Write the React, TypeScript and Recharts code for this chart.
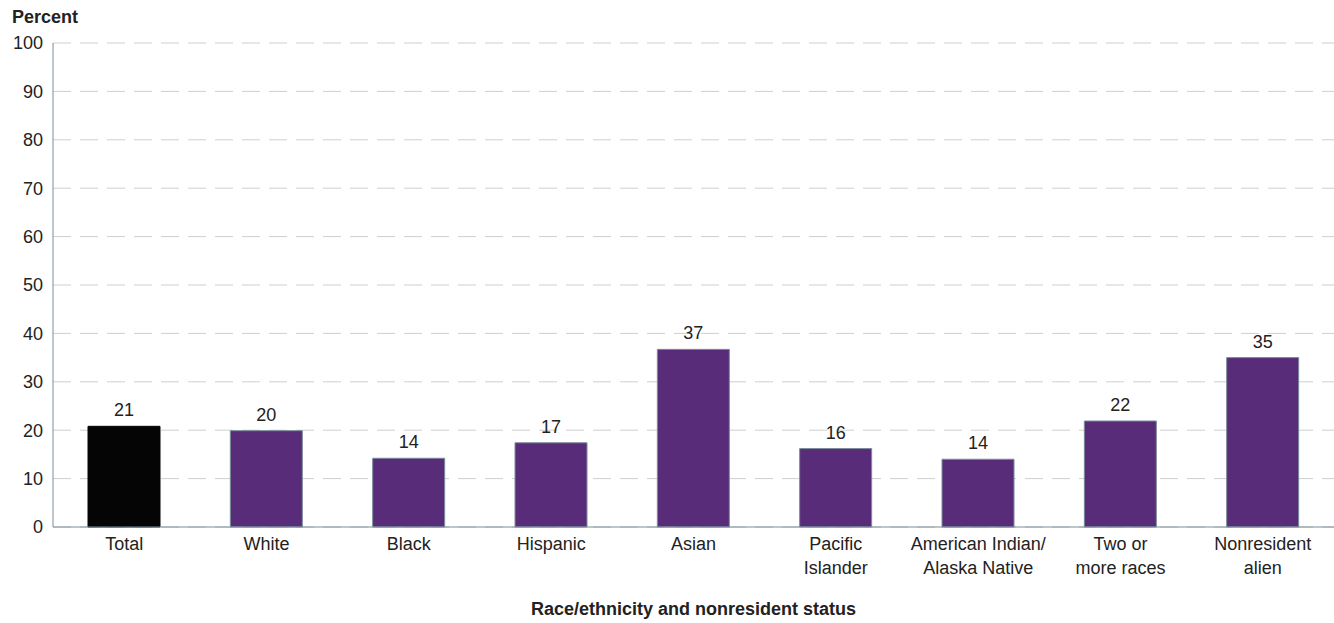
import React from 'react';
import { BarChart, Bar, XAxis, YAxis, CartesianGrid, Cell, LabelList, Label } from 'recharts';

const categories = [
  'Total',
  'White',
  'Black',
  'Hispanic',
  'Asian',
  'Pacific\nIslander',
  'American Indian/\nAlaska Native',
  'Two or\nmore races',
  'Nonresident\nalien',
];
const percents = [20.8, 19.9, 14.2, 17.4, 36.7, 16.2, 14.0, 21.9, 35.0];
const yTicks = [0, 10, 20, 30, 40, 50, 60, 70, 80, 90, 100];

const data = categories.map((name, i) => ({ name, value: percents[i] }));

const FONT = '"Liberation Sans", Arial, sans-serif';
const AXIS = '#7a8c9b';
const PURPLE = '#582c79';

const CategoryTick = (props: any) => {
  const { x, y, payload } = props;
  const lines = String(payload.value).split('\n');
  return (
    <text x={x} y={y} textAnchor="middle" fill="#222" fontSize={18} fontFamily={FONT}>
      {lines.map((line, i) => (
        <tspan key={i} x={x} dy={i === 0 ? 15 : 23.5}>
          {line}
        </tspan>
      ))}
    </text>
  );
};

export default function App() {
  return (
    <div style={{ position: 'absolute', left: 0, top: 0, width: 1334, height: 623, background: '#fff' }}>
      <div
        style={{
          position: 'absolute',
          left: 12,
          top: 7,
          fontFamily: FONT,
          fontWeight: 'bold',
          fontSize: 18,
          color: '#222',
        }}
      >
        Percent
      </div>
      <BarChart
        width={1334}
        height={623}
        data={data}
        margin={{ top: 43, right: 0, bottom: 0, left: 0 }}
        barCategoryGap={0}
      >
        <CartesianGrid vertical={false} stroke="#cfcfcf" strokeDasharray="18 9" />
        <XAxis
          dataKey="name"
          height={96}
          stroke={AXIS}
          tickLine={false}
          interval={0}
          tick={<CategoryTick />}
        >
          <Label
            value="Race/ethnicity and nonresident status"
            position="insideBottom"
            offset={8}
            style={{ fontFamily: FONT, fontWeight: 'bold', fontSize: 18, fill: '#222' }}
          />
        </XAxis>
        <YAxis
          width={53}
          domain={[0, 100]}
          ticks={yTicks}
          interval={0}
          stroke={AXIS}
          tickLine={false}
          tickMargin={4}
          tick={{ fontSize: 18, fontFamily: FONT, fill: '#222' }}
        />
        <Bar dataKey="value" barSize={72} stroke={AXIS} strokeWidth={1} isAnimationActive={false}>
          {data.map((d, i) => (
            <Cell
              key={d.name}
              fill={i === 0 ? '#050505' : PURPLE}
              stroke={i === 0 ? '#050505' : AXIS}
            />
          ))}
          <LabelList
            dataKey="value"
            position="top"
            offset={10}
            formatter={(v: any) => Math.round(Number(v))}
            style={{ fontSize: 18, fontFamily: FONT, fill: '#222' }}
          />
        </Bar>
      </BarChart>
    </div>
  );
}
